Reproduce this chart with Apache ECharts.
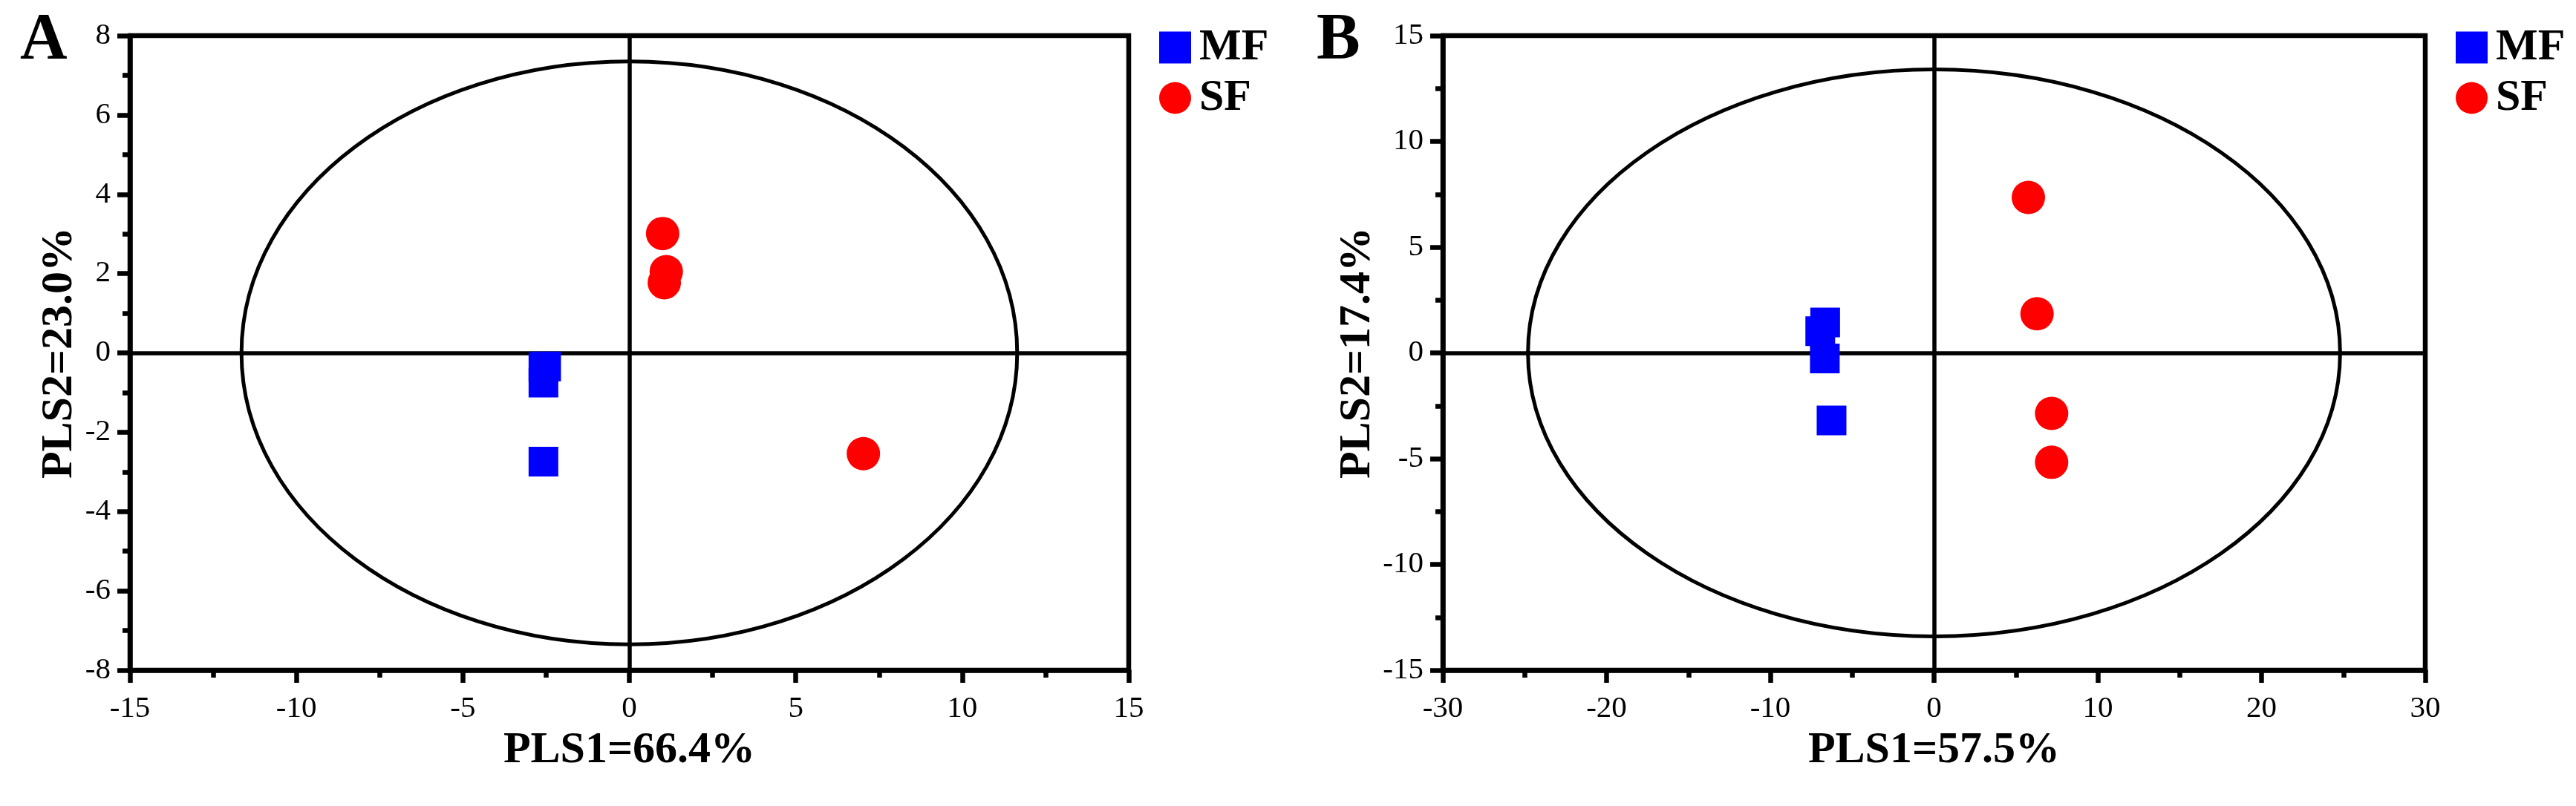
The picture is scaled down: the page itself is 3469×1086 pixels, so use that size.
<!DOCTYPE html>
<html>
<head>
<meta charset="utf-8">
<script src="https://cdn.jsdelivr.net/npm/echarts@6/dist/echarts.min.js"></script>
<style>
html,body{margin:0;padding:0;background:#fff;}
#chart{width:3469px;height:1086px;}
</style>
</head>
<body>
<div id="chart"></div>
<script>
// ---- Data ----
const groups = ['MF', 'SF'];
const panelLabels = ['A', 'B'];

const xTitleA = 'PLS1=66.4%';
const yTitleA = 'PLS2=23.0%';
const xTitleB = 'PLS1=57.5%';
const yTitleB = 'PLS2=17.4%';

// Panel A scores [PLS1, PLS2]
const mfA = [[-2.58, -0.36], [-2.50, -0.34], [-2.58, -0.75], [-2.58, -2.74]];
const sfA = [[1.00, 3.01], [1.11, 2.05], [1.05, 1.77], [7.03, -2.54]];
// Panel B scores [PLS1, PLS2]
const mfB = [[-6.65, 1.44], [-6.95, 1.03], [-6.67, -0.26], [-6.26, -3.19]];
const sfB = [[5.76, 7.35], [6.29, 1.85], [7.18, -2.86], [7.18, -5.17]];

// Confidence ellipse semi-axes [PLS1, PLS2], centred at origin
const ellipseA = [11.65, 7.35];
const ellipseB = [24.8, 13.4];

// Axis ranges [min, max, interval]
const xRangeA = [-15, 15, 5];
const yRangeA = [-8, 8, 2];
const xRangeB = [-30, 30, 10];
const yRangeB = [-15, 15, 5];

// ---- Styling ----
const FONT = '"Liberation Serif", "Times New Roman", serif';
const BLACK = '#000';
const BLUE = '#0000ff';
const RED = '#ff0000';
const AXW = 6.5;

function xAxisCfg(gi, r, name) {
  return {
    type: 'value', gridIndex: gi, min: r[0], max: r[1], interval: r[2],
    name: name, nameLocation: 'middle', nameGap: 78,
    nameTextStyle: {fontFamily: FONT, fontWeight: 'bold', fontSize: 60, color: BLACK},
    axisLine: {show: true, onZero: false, lineStyle: {color: BLACK, width: AXW}},
    axisTick: {show: true, inside: false, length: 17, lineStyle: {color: BLACK, width: AXW}},
    minorTick: {show: true, splitNumber: 2, length: 10, lineStyle: {color: BLACK, width: AXW}},
    axisLabel: {fontFamily: FONT, fontSize: 41, color: BLACK, margin: 32},
    splitLine: {show: false}, minorSplitLine: {show: false}
  };
}
function yAxisCfg(gi, r, name, gap) {
  return {
    type: 'value', gridIndex: gi, min: r[0], max: r[1], interval: r[2],
    name: name, nameLocation: 'middle', nameGap: gap, nameRotate: 90,
    nameTextStyle: {fontFamily: FONT, fontWeight: 'bold', fontSize: 60, color: BLACK},
    axisLine: {show: true, onZero: false, lineStyle: {color: BLACK, width: AXW}},
    axisTick: {show: true, inside: false, length: 17, lineStyle: {color: BLACK, width: AXW}},
    minorTick: {show: true, splitNumber: 2, length: 10, lineStyle: {color: BLACK, width: AXW}},
    axisLabel: {fontFamily: FONT, fontSize: 41, color: BLACK, margin: 26},
    splitLine: {show: false}, minorSplitLine: {show: false}
  };
}
function ellipseSeries(gi, ax) {
  return {
    type: 'custom', xAxisIndex: gi, yAxisIndex: gi, silent: true, clip: false, z: 1,
    data: [[0, 0, ax[0], ax[1]]],
    renderItem: function (params, api) {
      const c = api.coord([api.value(0), api.value(1)]);
      const s = api.size([api.value(2), api.value(3)]);
      return {
        type: 'ellipse',
        shape: {cx: c[0], cy: c[1], rx: s[0], ry: s[1]},
        style: {fill: null, stroke: BLACK, lineWidth: 5}
      };
    },
    markLine: {
      silent: true, symbol: ['none', 'none'], label: {show: false},
      lineStyle: {type: 'solid', color: BLACK, width: 5.5},
      emphasis: {disabled: true},
      data: [{xAxis: 0}, {yAxis: 0}]
    }
  };
}
function scatterSeries(gi, name, data, symbol, size, color) {
  return {
    type: 'scatter', name: name, xAxisIndex: gi, yAxisIndex: gi, z: 5,
    symbol: symbol, symbolSize: size, data: data,
    itemStyle: {color: color, opacity: 1}
  };
}
function legendCfg(left) {
  return {
    orient: 'vertical', left: left, top: 29, itemWidth: 43, itemHeight: 43, itemGap: 8,
    data: groups,
    textStyle: {fontFamily: FONT, fontWeight: 'bold', fontSize: 60, lineHeight: 60, color: BLACK, padding: [0, 0, 0, 6]},
    selectedMode: false
  };
}

const chart = echarts.init(document.getElementById('chart'), null, {renderer: 'canvas'});
chart.setOption({
  animation: false,
  backgroundColor: '#fff',
  title: [
    {text: panelLabels[0], left: 22, top: 6, textStyle: {fontFamily: FONT, fontWeight: 'bold', fontSize: 88, color: BLACK}},
    {text: panelLabels[1], left: 1768, top: 6, textStyle: {fontFamily: FONT, fontWeight: 'bold', fontSize: 88, color: BLACK}}
  ],
  legend: [legendCfg(1556), legendCfg(3302)],
  grid: [
    {left: 175, top: 48, width: 1345, height: 855, show: true, borderColor: BLACK, borderWidth: AXW, backgroundColor: 'transparent'},
    {left: 1943, top: 48, width: 1323, height: 855, show: true, borderColor: BLACK, borderWidth: AXW, backgroundColor: 'transparent'}
  ],
  xAxis: [xAxisCfg(0, xRangeA, xTitleA), xAxisCfg(1, xRangeB, xTitleB)],
  yAxis: [yAxisCfg(0, yRangeA, yTitleA, 60), yAxisCfg(1, yRangeB, yTitleB, 82)],
  series: [
    ellipseSeries(0, ellipseA),
    ellipseSeries(1, ellipseB),
    scatterSeries(0, groups[0], mfA, 'rect', 40, BLUE),
    scatterSeries(0, groups[1], sfA, 'circle', 45, RED),
    scatterSeries(1, groups[0], mfB, 'rect', 40, BLUE),
    scatterSeries(1, groups[1], sfB, 'circle', 45, RED)
  ]
});
</script>
</body>
</html>
